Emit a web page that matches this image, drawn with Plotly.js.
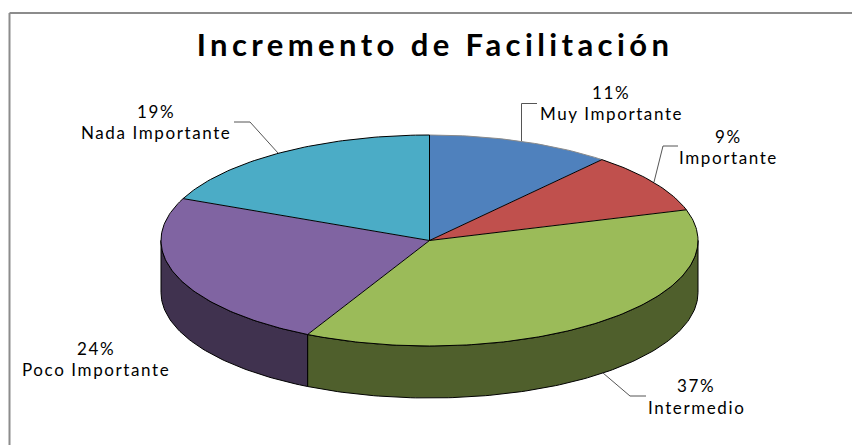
<!DOCTYPE html>
<html>
<head>
<meta charset="utf-8">
<script src="https://cdn.plot.ly/plotly-3.0.1.min.js"></script>
<style>
html,body{margin:0;padding:0;background:#fff;}
#chart{width:852px;height:445px;}
.gtitle{letter-spacing:4.4px;}
.annotation-text{letter-spacing:1.6px;}
</style>
</head>
<body>
<div id="chart"></div>
<script>
// Data
const categories = ['Muy Importante','Importante','Intermedio','Poco Importante','Nada Importante'];
const values = [11.1, 9.2, 37.2, 24.0, 18.5];
const topColors = ['#4F81BD','#C0504D','#9BBB59','#8064A2','#4BACC6'];
const wallColors = ['#2E4A6E','#70302E','#4F5F2C','#40324F','#2B6373'];
const rimColors = ['#8A8A8A','#000000','#000000','#000000','#000000'];
const labelX = [611, 728, 696, 96, 156];
const percentY = [92, 136, 385, 348, 111];
const nameY = [113, 157, 407, 369, 132];
const leaderX = [[521.5,521.5,537],[654,663,678],[603,630,646],[],[278,250,234]];
const leaderY = [[141,103.5,103.5],[182,146,146],[373,396,396],[],[153,122,122]];

// Pie geometry in pixel-like axis units
const cx = 429.5, cy = 240.5, rx = 268.5, ry = 105.5, depth = 52;

const pt = (deg, dy=0) => {
  const a = deg * Math.PI / 180;
  return [cx + rx * Math.sin(a), cy - ry * Math.cos(a) + dy];
};
const arc = (a0, a1, dy=0) => {
  const n = Math.max(2, Math.ceil(Math.abs(a1 - a0)));
  const out = [];
  for (let i = 0; i <= n; i++) out.push(pt(a0 + (a1 - a0) * i / n, dy));
  return out;
};
const line = (pts, extra) => Object.assign({
  type:'scatter', mode:'lines', x:pts.map(p=>p[0]), y:pts.map(p=>p[1]),
  hoverinfo:'skip', showlegend:false
}, extra);

const total = values.reduce((a,b)=>a+b,0);
let start = 0;
const wedges = values.map((v,i)=>{
  const a0 = start / total * 360;
  start += v;
  return {i, a0, a1: start / total * 360};
});

const traces = [];
// Side walls: only the part of each slice facing the viewer
wedges.forEach(w=>{
  const a0 = Math.max(w.a0, 90), a1 = Math.min(w.a1, 270);
  if (a1 <= a0) return;
  const outline = arc(a0,a1,0).concat(arc(a1,a0,depth));
  outline.push(outline[0]);
  traces.push(line(outline,{fill:'toself',fillcolor:wallColors[w.i],line:{color:'#000000',width:1}}));
});
// Top faces
wedges.forEach(w=>{
  const body = [[cx,cy]].concat(arc(w.a0,w.a1)).concat([[cx,cy]]);
  traces.push(line(body,{fill:'toself',fillcolor:topColors[w.i],line:{color:'rgba(0,0,0,0)',width:0}}));
});
wedges.forEach(w=>{
  traces.push(line(arc(w.a0,w.a1),{line:{color:rimColors[w.i],width:1}}));
});
wedges.forEach(w=>{
  traces.push(line([pt(w.a0),[cx,cy]],{line:{color:'#000000',width:1}}));
});
// Leader lines
leaderX.forEach((xs,i)=>{
  if (!xs.length) return;
  traces.push(line(xs.map((x,k)=>[x,leaderY[i][k]]),{line:{color:'#555555',width:1}}));
});

const annotations = [];
categories.forEach((c,i)=>{
  const base = {xref:'x',yref:'y',x:labelX[i],showarrow:false,xanchor:'center',yanchor:'middle',
    font:{family:'Lato, sans-serif',size:17,color:'#000000'}};
  annotations.push(Object.assign({},base,{y:percentY[i],text:Math.round(values[i])+'%'}));
  annotations.push(Object.assign({},base,{y:nameY[i],text:c}));
});

const layout = {
  width:852,height:445,
  margin:{l:0,r:0,t:0,b:0},
  paper_bgcolor:'#ffffff',plot_bgcolor:'#ffffff',
  showlegend:false,
  title:{text:'<b>Incremento de Facilitación</b>',x:435/852,xanchor:'center',y:1-45/445,yanchor:'middle',
    font:{family:'Lato, sans-serif',size:31,color:'#000000'}},
  xaxis:{range:[0,852],visible:false,fixedrange:true},
  yaxis:{range:[445,0],visible:false,fixedrange:true},
  annotations,
  shapes:[
    {type:'line',xref:'x',yref:'y',x0:9.5,x1:852,y0:13,y1:13,line:{color:'#8C8C8C',width:2}},
    {type:'line',xref:'x',yref:'y',x0:9.5,x1:9.5,y0:13,y1:445,line:{color:'#8C8C8C',width:2}}
  ]
};
Plotly.newPlot('chart',traces,layout,{displayModeBar:false,staticPlot:true});
</script>
</body>
</html>
